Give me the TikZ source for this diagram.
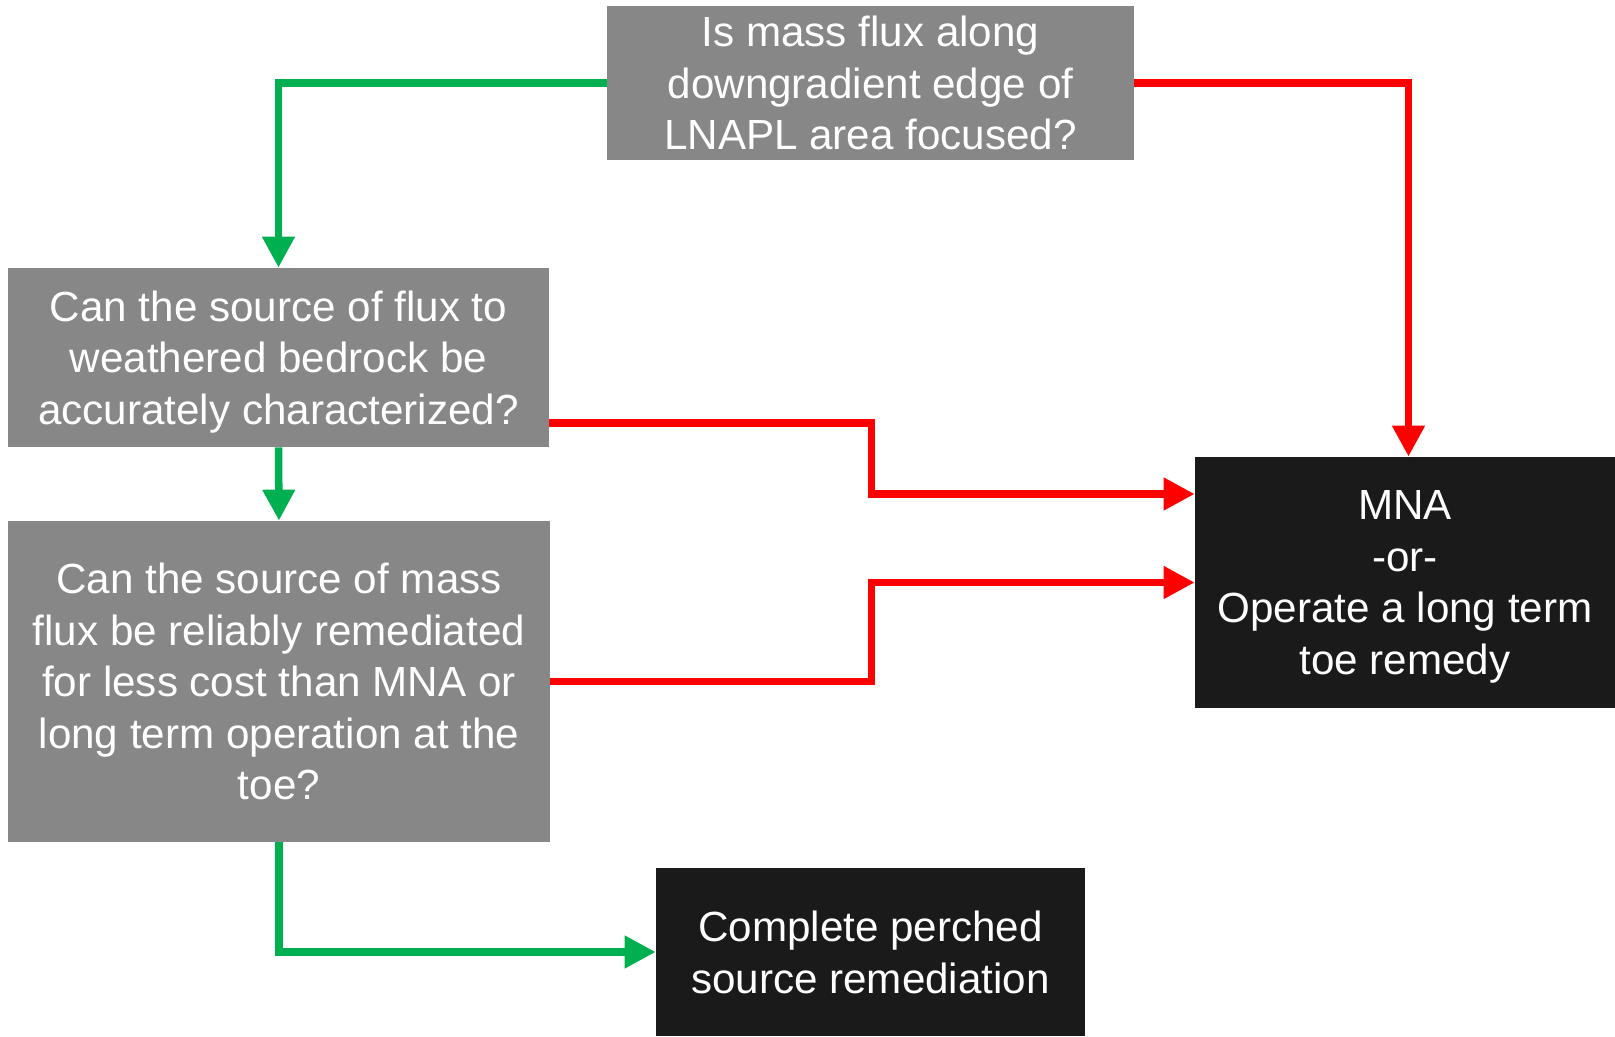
\documentclass[tikz,border=0pt]{standalone}
\usepackage{fontspec}
\setmainfont{Liberation Sans}
\usepackage{tikz}
\usetikzlibrary{arrows.meta, positioning, calc}
\usepackage{xcolor}
\definecolor{qgray}{HTML}{878787}
\definecolor{rblack}{HTML}{1A1A1A}
\definecolor{yesgreen}{HTML}{00B050}
\definecolor{nored}{HTML}{FF0000}

\begin{document}
\begin{tikzpicture}[every node/.style={text=white, align=center, inner sep=2pt, text depth=0pt, font=\fontsize{24}{29.3}\selectfont},
    question/.style={fill=qgray},
    result/.style={fill=rblack},
    yes/.style={-{Triangle[length=0.62cm, width=0.62cm]}, line width=0.15cm, yesgreen},
    no/.style={-{Triangle[length=0.62cm, width=0.62cm]}, line width=0.15cm, nored}]
    \useasboundingbox (0,0) rectangle (32.3,20.72);
                \node[question, minimum width=10.54cm, minimum height=3.08cm] (flux) at (17.41, 19.06) {Is mass flux along\\downgradient edge of\\LNAPL area focused?};
                \node[question, minimum width=10.82cm, minimum height=3.58cm] (bedrock) at (5.57, 13.57) {Can the source of flux to\\weathered bedrock be\\accurately characterized?};
                \node[question, minimum width=10.84cm, minimum height=6.42cm] (cost) at (5.58, 7.09) {Can the source of mass\\flux be reliably remediated\\for less cost than MNA or\\long term operation at the\\toe?};
                \node[result, minimum width=8.4cm, minimum height=5.02cm] (mna) at (28.10, 9.07) {MNA\\-or-\\Operate a long term\\toe remedy};
                \node[result, minimum width=8.58cm, minimum height=3.36cm] (perched) at (17.41, 1.68) {Complete perched\\source remediation};
                % yes
                \draw[yes] (flux.west) -| (bedrock.north);
                \draw[yes] (bedrock.south) -- (cost.north);
                \draw[yes] (cost.south) |- (perched.west);
                % no
                \draw[no] (flux.east) -| ([xshift=0.07cm]mna.north);
                \draw[no] ([yshift=-1.31cm]bedrock.east) -- ++(6.44cm,0) |- ([yshift=1.77cm]mna.west);
                \draw[no] (cost.east) -- ++(6.42cm,0) |- (mna.west);
            \end{tikzpicture}
\end{document}
